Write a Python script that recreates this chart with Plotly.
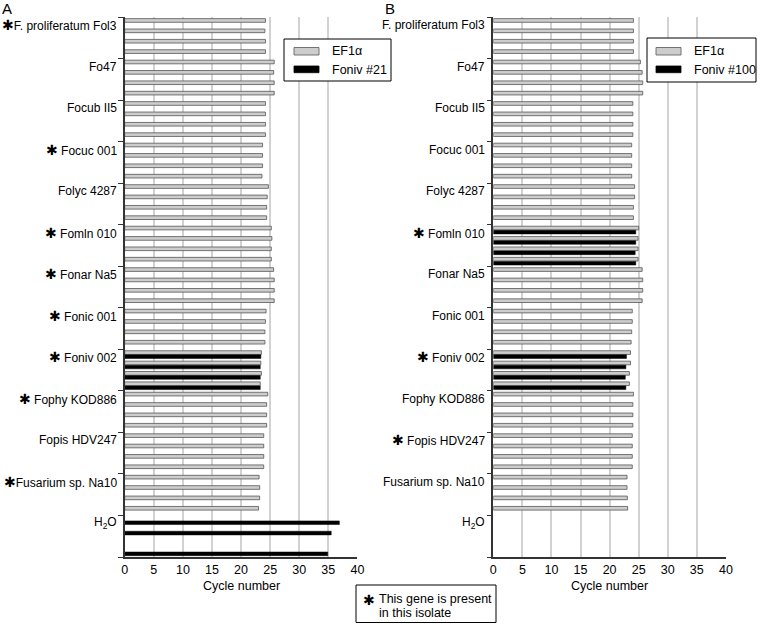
import plotly.graph_objects as go

isolates = ["F. proliferatum Fol3", "Fo47", "Focub II5", "Focuc 001", "Folyc 4287",
            "Fomln 010", "Fonar Na5", "Fonic 001", "Foniv 002", "Fophy KOD886",
            "Fopis HDV247", "Fusarium sp. Na10", "H<sub>2</sub>O"]
starred_A = [True, False, False, True, False, True, True, True, True, True, False, True, False]
starred_B = [False, False, False, False, False, True, False, False, True, False, True, False, False]

# four replicate rows per isolate (None = no amplification)
ef1a_A = [24.2, 24.1, 24.2, 24.2,  25.7, 25.6, 25.7, 25.7,  24.2, 24.2, 24.2, 24.2,
          23.7, 23.7, 23.7, 23.6,  24.7, 24.5, 24.4, 24.4,  25.2, 25.3, 25.2, 25.2,
          25.6, 25.7, 25.7, 25.7,  24.3, 24.2, 24.1, 24.1,  23.5, 23.4, 23.5, 23.3,
          24.6, 24.4, 24.4, 24.4,  23.9, 23.9, 23.9, 23.9,  23.1, 23.2, 23.2, 23.0,
          None, None, None, None]
foniv21_A = [None] * 32 + [23.4, 23.3, 23.3, 23.3] + [None] * 12 + [36.9, 35.5, None, 34.9]

ef1a_B = [24.1, 24.1, 24.1, 24.1,  25.3, 25.6, 25.7, 25.7,  24.0, 24.0, 24.0, 24.0,
          23.8, 23.8, 23.8, 23.8,  24.3, 24.3, 24.1, 24.1,  25.0, 24.9, 24.9, 24.9,
          25.6, 25.7, 25.7, 25.6,  23.9, 23.9, 23.8, 23.7,  23.6, 23.6, 23.4, 23.4,
          24.1, 24.0, 24.0, 24.0,  23.9, 23.9, 23.9, 23.9,  23.0, 23.0, 23.05, 23.1,
          None, None, None, None]
foniv100_B = [None] * 20 + [24.5, 24.5, 24.4, 24.5] + [None] * 8 + [22.9, 22.8, 22.7, 22.8] + [None] * 20

rows = list(range(len(ef1a_A)))
x_ticks = [0, 5, 10, 15, 20, 25, 30, 35, 40]

W, H = 760, 624
def px(x): return x / W
def py(y): return 1 - y / H

FONT = "Liberation Sans, Arial, sans-serif"
GRAY = "#cdcdcd"
EDGE = "#555555"

fig = go.Figure()
for xa, ya, g, b in [("x", "y", ef1a_A, foniv21_A), ("x2", "y2", ef1a_B, foniv100_B)]:
    fig.add_trace(go.Bar(x=g, y=rows, orientation="h", xaxis=xa, yaxis=ya,
                         marker=dict(color=GRAY, line=dict(color=EDGE, width=0.8)),
                         showlegend=False))
    fig.add_trace(go.Bar(x=b, y=rows, orientation="h", xaxis=xa, yaxis=ya,
                         marker=dict(color="black", line=dict(color="black", width=0.5)),
                         showlegend=False))

ydom = [py(557), py(17.3)]
tickv = [4 * k - 0.5 for k in range(len(isolates) + 1)]
common_x = dict(range=[0, 40], tickvals=x_ticks, showgrid=True, gridcolor="#d2d2d2", gridwidth=1.5,
                zeroline=False, showline=True, linecolor="#333", linewidth=1.5, ticks="",
                tickfont=dict(family=FONT, size=12.5, color="black"), automargin=False)
common_y = dict(range=[51.5, -0.5], tickvals=tickv, showticklabels=False, ticks="outside",
                ticklen=5, tickcolor="#333", tickwidth=1, showgrid=False, zeroline=False,
                showline=True, linecolor="#333", linewidth=1.5, domain=ydom, automargin=False)

fig.update_layout(
    width=W, height=H, margin=dict(l=0, r=0, t=0, b=0),
    paper_bgcolor="white", plot_bgcolor="white",
    barmode="group", bargap=0.22, bargroupgap=0.1,
    font=dict(family=FONT, size=12.5, color="black"),
    xaxis=dict(domain=[px(124.7), px(357.4)], anchor="y", **common_x),
    yaxis=dict(anchor="x", **common_y),
    xaxis2=dict(domain=[px(493.3), px(725.9)], anchor="y2", **common_x),
    yaxis2=dict(anchor="x2", **common_y),
)

STAR = '<span style="font-family:DejaVu Sans;font-size:14px">✱</span>'
ann = []
shapes = []
for xr, yr, stars in [("x", "y", starred_A), ("x2", "y2", starred_B)]:
    for k, name in enumerate(isolates):
        txt = name
        if stars[k]:
            txt = STAR + ("" if len(name) > 16 else " ") + name
        ann.append(dict(x=0, y=4 * k - 0.5 + 0.75, xref=xr, yref=yr, text=txt, showarrow=False,
                        xanchor="right", yanchor="middle", xshift=-6, font=dict(size=12)))
    ann.append(dict(x=px(({"x": 124.7, "x2": 493.3})[xr] + 116.3), y=py(586), xref="paper", yref="paper",
                    text="Cycle number", showarrow=False, xanchor="center", yanchor="middle"))

# panel letters
for lx, letter in [(1, "A"), (384, "B")]:
    ann.append(dict(x=px(lx), y=py(0), xref="paper", yref="paper", text=letter, showarrow=False,
                    xanchor="left", yanchor="top", height=14, valign="middle", borderpad=0,
                    font=dict(size=15)))

# legend boxes
for (bx0, bx1, by0, by1, sx0, tx, lab) in [(284, 391, 39, 81, 294, 330, "Foniv #21"),
                                           (647, 756, 38, 82, 656, 692, "Foniv #100")]:
    shapes.append(dict(type="rect", xref="paper", yref="paper", x0=px(bx0), x1=px(bx1), y0=py(by1), y1=py(by0),
                       line=dict(color="black", width=1), fillcolor="white", layer="above"))
    shapes.append(dict(type="rect", xref="paper", yref="paper", x0=px(sx0), x1=px(sx0 + 25), y0=py(55), y1=py(47.5),
                       line=dict(color=EDGE, width=0.8), fillcolor=GRAY, layer="above"))
    shapes.append(dict(type="rect", xref="paper", yref="paper", x0=px(sx0), x1=px(sx0 + 25), y0=py(72.7), y1=py(66),
                       line=dict(color="black", width=0.8), fillcolor="black", layer="above"))
    ann.append(dict(x=px(tx), y=py(51.3), xref="paper", yref="paper", text="EF1α", showarrow=False,
                    xanchor="left", yanchor="middle"))
    ann.append(dict(x=px(tx), y=py(69.5), xref="paper", yref="paper", text=lab, showarrow=False,
                    xanchor="left", yanchor="middle"))

# note box
shapes.append(dict(type="rect", xref="paper", yref="paper", x0=px(356), x1=px(496), y0=py(622.5), y1=py(585),
                   line=dict(color="black", width=1), fillcolor="white", layer="above"))
ann.append(dict(x=px(361), y=py(600), xref="paper", yref="paper", text=STAR, showarrow=False,
                xanchor="left", yanchor="middle"))
ann.append(dict(x=px(377), y=py(599), xref="paper", yref="paper", text="This gene is present", showarrow=False,
                xanchor="left", yanchor="middle"))
ann.append(dict(x=px(377), y=py(613), xref="paper", yref="paper", text="in this isolate", showarrow=False,
                xanchor="left", yanchor="middle"))

fig.update_layout(annotations=ann, shapes=shapes)
fig.write_html("out.html", config={"displayModeBar": False},
               post_script="document.body.style.margin='0';document.body.style.overflow='hidden';")
